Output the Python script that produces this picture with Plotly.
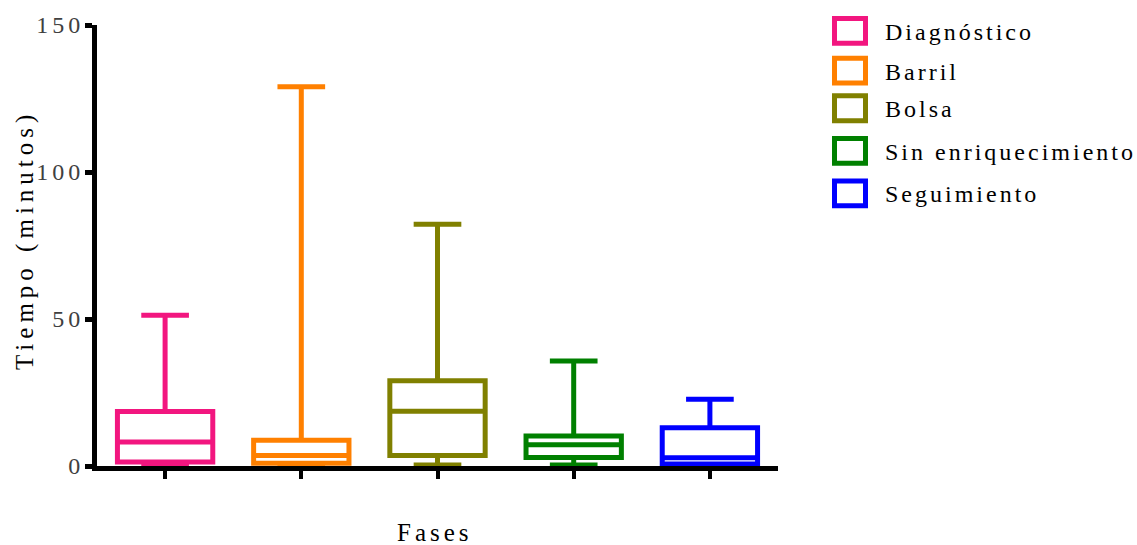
import plotly.graph_objects as go

# Phase names and box-plot summary statistics (minutes)
fases = ["Diagnóstico", "Barril", "Bolsa", "Sin enriquecimiento", "Seguimiento"]
minimo = [0.3, 0.3, 0.3, 0.3, 0.3]
q1 = [1.4, 0.9, 3.6, 2.9, 0.7]
mediana = [8.2, 3.6, 18.6, 7.2, 2.8]
q3 = [18.5, 8.8, 29.0, 10.2, 13.0]
maximo = [51.3, 129.0, 82.2, 35.7, 22.7]
colores = ["#F2167F", "#FF8000", "#808000", "#008000", "#0000FF"]

y_ticks = [0, 50, 100, 150]

W, H = 1137, 545
L, R, T, B = 97, 778, 21, 466  # plot area in pixels
SERIF = "Liberation Serif"


def px_x(p):
    return (p - L) / (R - L)


def px_y(p):
    return (B - p) / (B - T)


def spaced(s, sp):
    # letter-spaced text without trailing space after the last glyph
    return f'<span style="letter-spacing:{sp}px">{s[:-1]}</span>{s[-1]}'


fig = go.Figure()
for nombre, lo, a, m, b, hi, c in zip(fases, minimo, q1, mediana, q3, maximo, colores):
    fig.add_trace(go.Box(
        x=[nombre], q1=[a], median=[m], q3=[b], lowerfence=[lo], upperfence=[hi],
        name=nombre, width=0.7, whiskerwidth=0.5, boxpoints=False,
        line=dict(color=c, width=5), fillcolor="white", showlegend=False,
    ))

# Legend drawn as outlined squares with labels
legend_centers = [27, 67, 105, 148, 191]
shapes = []
annotations = []
for nombre, c, cy in zip(fases, colores, legend_centers):
    shapes.append(dict(
        type="rect", xref="paper", yref="paper",
        x0=px_x(834.5), x1=px_x(865.5), y0=px_y(cy - 12.5), y1=px_y(cy + 12.5),
        line=dict(color=c, width=5), fillcolor="white",
    ))
    annotations.append(dict(
        xref="paper", yref="paper", x=px_x(883), y=px_y(cy + 1),
        xanchor="left", yanchor="middle", showarrow=False,
        text=spaced(nombre, 3), font=dict(family=SERIF, size=24, color="black"),
    ))

annotations.append(dict(
    xref="paper", yref="paper", x=px_x(25), y=px_y(241), textangle=-90,
    xanchor="center", yanchor="middle", showarrow=False,
    text=spaced("Tiempo (minutos)", 5), font=dict(family=SERIF, size=25, color="black"),
))
annotations.append(dict(
    xref="paper", yref="paper", x=px_x(433), y=px_y(533),
    xanchor="center", yanchor="middle", showarrow=False,
    text=spaced("Fases", 4), font=dict(family=SERIF, size=25, color="black"),
))

fig.update_layout(
    width=W, height=H,
    margin=dict(l=L, r=W - R, t=T, b=H - B, pad=0),
    plot_bgcolor="white", paper_bgcolor="white",
    boxmode="overlay",
    shapes=shapes, annotations=annotations,
    xaxis=dict(
        type="category", categoryarray=fases, range=[-0.5, 4.5],
        showline=True, linecolor="black", linewidth=5,
        ticks="outside", ticklen=8, tickwidth=4, tickcolor="black",
        showticklabels=False, showgrid=False, zeroline=False,
    ),
    yaxis=dict(
        range=[0, 150], tickvals=y_ticks,
        ticktext=[spaced(str(v), 4) if v else str(v) for v in y_ticks],
        showline=True, linecolor="black", linewidth=5,
        ticks="outside", ticklen=7, tickwidth=5, tickcolor="black",
        tickfont=dict(family=SERIF, size=24, color="#404040"),
        showgrid=False, zeroline=False,
    ),
)

fig.write_html("out.html")
